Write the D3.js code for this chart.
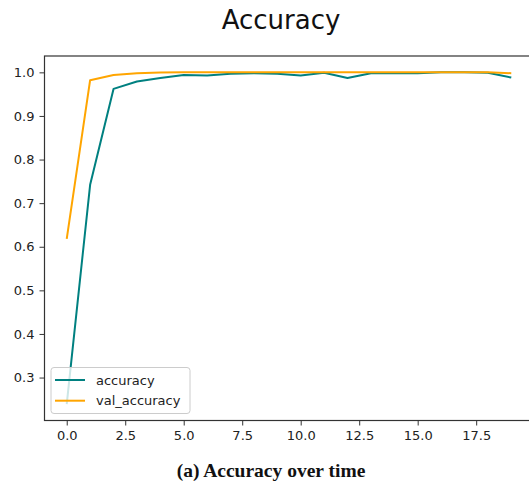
<!DOCTYPE html>
<html>
<head>
<meta charset="utf-8">
<script src="https://cdn.jsdelivr.net/npm/d3@7"></script>
<style>
  html, body { margin: 0; padding: 0; background: #fff; }
  svg { display: block; overflow: hidden; }
</style>
</head>
<body>
<div id="chart"></div>
<script>
// epochs and the two training curves
const epochs = d3.range(0, 20);
const accuracy = [0.239, 0.742, 0.962, 0.979, 0.987, 0.994, 0.993, 0.997, 0.998, 0.997,
                  0.993, 0.999, 0.987, 0.998, 0.998, 0.998, 1.0, 1.0, 0.999, 0.988];
const valAccuracy = [0.618, 0.982, 0.994, 0.998, 0.9995, 1.0, 1.0, 1.0, 1.0, 1.0,
                     1.0, 1.0, 1.0, 1.0, 1.0, 1.0, 1.0, 1.0, 1.0, 0.998];
const xTicks = [0, 2.5, 5, 7.5, 10, 12.5, 15, 17.5];
const yTicks = [0.3, 0.4, 0.5, 0.6, 0.7, 0.8, 0.9, 1.0];

const series = [
    { name: "accuracy", values: accuracy, color: "teal" },
    { name: "val_accuracy", values: valAccuracy, color: "orange" }
];

const width = 529, height = 487;
const plot = { left: 44.5, right: 533.5, top: 56, bottom: 420.5 };

const svg = d3.select("#chart")
    .append("svg")
    .attr("width", width)
    .attr("height", height);

const xScale = d3.scaleLinear().domain([-0.95, 19.95]).range([plot.left, plot.right]);
const yScale = d3.scaleLinear().domain([0.2015, 1.0375]).range([plot.bottom, plot.top]);

// lines
const line = d3.line()
    .x((d, i) => xScale(epochs[i]))
    .y(d => yScale(d));

svg.append("g")
    .selectAll("path")
    .data(series)
    .enter()
    .append("path")
    .attr("d", d => line(d.values))
    .attr("fill", "none")
    .attr("stroke", d => d.color)
    .attr("stroke-width", 2)
    .attr("stroke-linejoin", "round");

// frame
svg.append("rect")
    .attr("x", plot.left)
    .attr("y", plot.top)
    .attr("width", plot.right - plot.left)
    .attr("height", plot.bottom - plot.top)
    .attr("fill", "none")
    .attr("stroke", "#333")
    .attr("stroke-width", 1.2);

const xAxis = d3.axisBottom(xScale).tickValues(xTicks).tickFormat(d3.format(".1f")).tickSize(5).tickPadding(5);
const yAxis = d3.axisLeft(yScale).tickValues(yTicks).tickFormat(d3.format(".1f")).tickSize(5).tickPadding(5);

const gx = svg.append("g")
    .attr("transform", `translate(0,${plot.bottom})`)
    .call(xAxis);
const gy = svg.append("g")
    .attr("transform", `translate(${plot.left},0)`)
    .call(yAxis);

[gx, gy].forEach(g => {
    g.select(".domain").remove();
    g.selectAll("line").attr("stroke", "#333");
    g.selectAll("text")
        .attr("fill", "#222")
        .style("font-family", "DejaVu Sans")
        .style("font-size", "13px");
});

// legend
const legend = svg.append("g");
legend.append("rect")
    .attr("x", 51)
    .attr("y", 367.5)
    .attr("width", 139)
    .attr("height", 46)
    .attr("rx", 3)
    .attr("fill", "#fff")
    .attr("fill-opacity", 0.8)
    .attr("stroke", "#ccc");

const items = legend.selectAll("g.item")
    .data(series)
    .enter()
    .append("g")
    .attr("transform", (d, i) => `translate(0,${380 + i * 20.7})`);

items.append("line")
    .attr("x1", 55).attr("x2", 85)
    .attr("stroke", d => d.color)
    .attr("stroke-width", 2);

items.append("text")
    .attr("x", 96)
    .attr("y", 4.5)
    .attr("fill", "#222")
    .style("font-family", "DejaVu Sans")
    .style("font-size", "13px")
    .text(d => d.name);

// title
svg.append("text")
    .attr("x", 281)
    .attr("y", 29)
    .attr("text-anchor", "middle")
    .attr("fill", "#111")
    .style("font-family", "DejaVu Sans")
    .style("font-size", "26px")
    .text("Accuracy");

// caption
svg.append("text")
    .attr("x", 271)
    .attr("y", 477)
    .attr("text-anchor", "middle")
    .attr("fill", "#111")
    .style("font-family", "Liberation Serif")
    .style("font-weight", "bold")
    .style("font-size", "19.5px")
    .text("(a) Accuracy over time");
</script>
</body>
</html>
